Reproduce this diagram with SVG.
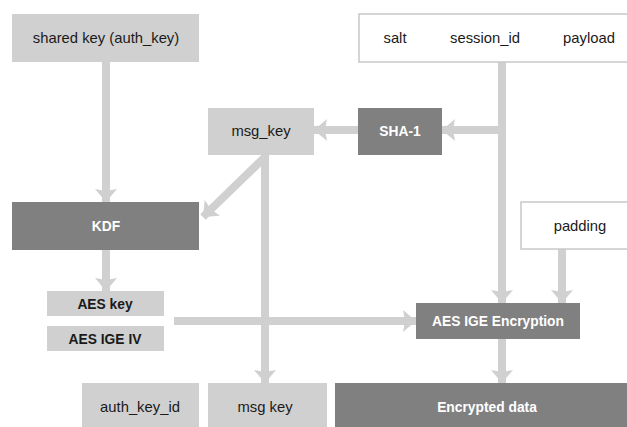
<svg xmlns="http://www.w3.org/2000/svg" width="627" height="427" viewBox="0 0 627 427">
<style>
.light{fill:#d0d0d0;}
.dark{fill:#808080;}
.white{fill:#ffffff;stroke:#c8c8c8;stroke-width:1.5;}
text{font-family:"Liberation Sans",Arial,sans-serif;font-size:14.8px;text-anchor:middle;dominant-baseline:central;fill:#1a1a1a;}
.wt{fill:#ffffff;font-weight:bold;font-size:13.8px;}
.bd{font-weight:bold;font-size:13.8px;}
.conn{stroke:#d0d0d0;stroke-width:8;fill:none;}
</style>
<defs>
<marker id="ah" markerUnits="userSpaceOnUse" markerWidth="14" markerHeight="24" refX="13" refY="12" orient="auto">
<path d="M0,1 L13,12 L0,23 L2,12 Z" fill="#d0d0d0"/>
</marker>
</defs>
<rect width="627" height="427" fill="#ffffff"/>
<g id="connectors">
<line class="conn" x1="106" y1="62" x2="106" y2="202" marker-end="url(#ah)"/>
<line class="conn" x1="502" y1="62" x2="502" y2="303" marker-end="url(#ah)"/>
<line class="conn" x1="502" y1="130" x2="442" y2="130" marker-end="url(#ah)"/>
<line class="conn" x1="358" y1="130" x2="314" y2="130" marker-end="url(#ah)"/>
<line class="conn" x1="266" y1="156" x2="203" y2="217" marker-end="url(#ah)"/>
<line class="conn" x1="265" y1="155" x2="265" y2="383" marker-end="url(#ah)"/>
<line class="conn" x1="106" y1="250" x2="106" y2="291" marker-end="url(#ah)"/>
<line class="conn" x1="174" y1="321" x2="416" y2="321" marker-end="url(#ah)"/>
<line class="conn" x1="562" y1="249" x2="562" y2="303" marker-end="url(#ah)"/>
<line class="conn" x1="502" y1="339" x2="502" y2="383" marker-end="url(#ah)"/>
</g>
<g id="shared-key"><rect class="light" x="12" y="14" width="187" height="48"/><text x="106" y="38">shared key (auth_key)</text></g>
<g id="inputs"><rect class="white" x="359" y="14" width="270" height="48"/><text x="395" y="38">salt</text><text x="485" y="38">session_id</text><text x="589" y="38">payload</text></g>
<g id="msg-key-top"><rect class="light" x="208" y="108" width="106" height="47"/><text x="261" y="131">msg_key</text></g>
<g id="sha1"><rect class="dark" x="358" y="108" width="84" height="47"/><text class="wt" x="400" y="131">SHA-1</text></g>
<g id="kdf"><rect class="dark" x="12" y="202" width="187" height="48"/><text class="wt" x="106" y="226">KDF</text></g>
<g id="padding"><rect class="white" x="521" y="202" width="108" height="47"/><text x="580" y="226">padding</text></g>
<g id="aes-key"><rect class="light" x="47" y="291" width="117" height="25"/><text class="bd" x="105" y="304">AES key</text></g>
<g id="aes-iv"><rect class="light" x="47" y="326" width="117" height="25"/><text class="bd" x="105" y="339">AES IGE IV</text></g>
<g id="aes-enc"><rect class="dark" x="416" y="303" width="164" height="36"/><text class="wt" x="498" y="321">AES IGE Encryption</text></g>
<g id="auth-key-id"><rect class="light" x="82" y="383" width="117" height="44"/><text x="140" y="407">auth_key_id</text></g>
<g id="msg-key-bottom"><rect class="light" x="208" y="383" width="119" height="44"/><text x="265" y="407">msg key</text></g>
<g id="encrypted"><rect class="dark" x="335" y="383" width="292" height="44"/><text class="wt" x="487" y="407">Encrypted data</text></g>
</svg>
